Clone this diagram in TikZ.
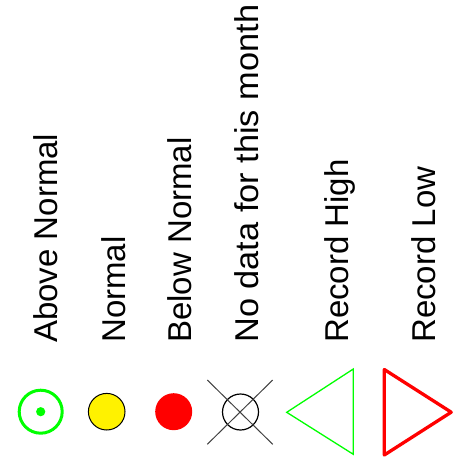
\documentclass[tikz,border=0pt]{standalone}
\usepackage{fontspec}
\setmainfont{Liberation Sans}
\begin{document}
\begin{tikzpicture}[x=1bp,y=-1bp,
  lbl/.style={rotate=90,anchor=base west,inner sep=0pt,font=\fontsize{33bp}{40bp}\selectfont}]
\useasboundingbox (0,0) rectangle (459,465);
\node[lbl] (t1) at (57.5,343) {Above Normal};
\node[lbl] (t2) at (125,343) {Normal};
\node[lbl] (t3) at (191,343) {Below Normal};
\node[lbl] (t4) at (258,343) {\scalebox{1.041}[1]{No data for this month}};
\node[lbl] (t5) at (348,343) {Record High};
\node[lbl] (t6) at (435,343) {Record Low};
% above normal
\draw[green, line width=3bp] (40.7,411.7) circle[radius=21.5];
\fill[green] (40.7,411.7) circle[radius=4.6];
% normal
\filldraw[fill=yellow, draw=black, line width=1bp] (106.7,411.7) circle[radius=18.3];
% below normal
\fill[red] (173.7,411.7) circle[radius=18.5];
% no data
\draw[black, line width=1.2bp] (240.5,412) circle[radius=18];
\draw[black!75, line width=1bp] (207.3,380) -- (272.7,444.3);
\draw[black!75, line width=1bp] (207.3,444.3) -- (272.7,380);
% record high
\draw[green, line width=1.3bp, line join=miter] (286.7,412.3) -- (353.3,369) -- (353.3,454.3) -- cycle;
% record low
\draw[red, line width=3.3bp, line join=round] (384.3,369.5) -- (384.3,455) -- (451.2,412.2) -- cycle;
\end{tikzpicture}
\end{document}
